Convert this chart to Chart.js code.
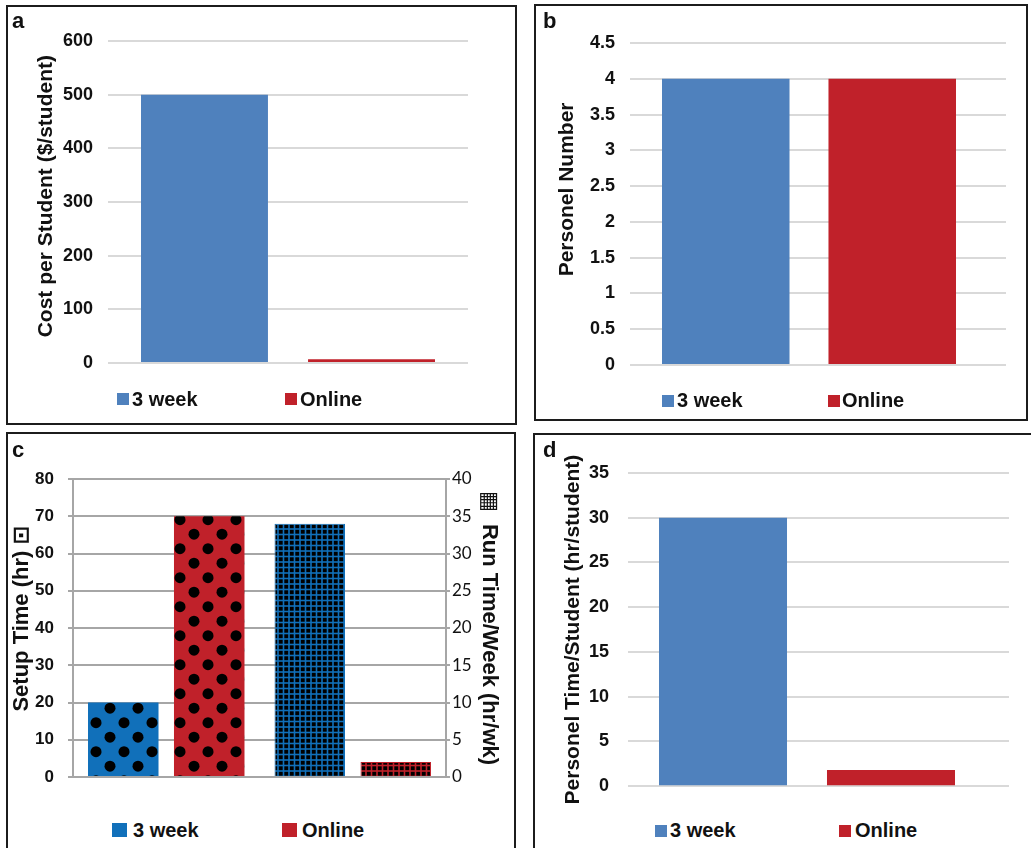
<!DOCTYPE html>
<html>
<head>
<meta charset="utf-8">
<script src="https://cdn.jsdelivr.net/npm/chart.js@4.4.1/dist/chart.umd.min.js"></script>
<style>
  html, body { margin: 0; padding: 0; background: #fff; }
  body { width: 1031px; height: 848px; position: relative; overflow: hidden;
         font-family: 'Liberation Sans', Arial, sans-serif; color: #111; }
  .panel { position: absolute; border: 2px solid #1c1c1c; box-sizing: border-box; }
  canvas { position: absolute; }
  .txt { position: absolute; font-weight: bold; white-space: nowrap; }
  .key { position: absolute; }
</style>
</head>
<body>
<div class="panel" style="left:6px;top:5px;width:511px;height:420px"></div>
<div class="panel" style="left:534px;top:4px;width:494px;height:417px"></div>
<div class="panel" style="left:6px;top:432px;width:510px;height:440px"></div>
<div class="panel" style="left:533px;top:433px;width:520px;height:440px"></div>

<canvas id="ca" width="507" height="385" style="left:8px;top:7px"></canvas>
<canvas id="cb" width="490" height="385" style="left:536px;top:6px"></canvas>
<canvas id="cc" width="508" height="375" style="left:8px;top:435px"></canvas>
<canvas id="cd" width="496" height="380" style="left:535px;top:436px"></canvas>

<script>
// Series and axis data
const seriesNames = ['3 week', 'Online'];
const costPerStudent = [500, 7];
const personelNumber = [4, 4];
const setupTime = [20, 70];
const runTimePerWeek = [34, 2];
const personelTimePerStudent = [30, 1.8];
const timeCategories = ['Setup', 'Run'];

const costTicks = [0, 100, 200, 300, 400, 500, 600];
const personelTicks = [0, 0.5, 1, 1.5, 2, 2.5, 3, 3.5, 4, 4.5];
const setupTicks = [0, 10, 20, 30, 40, 50, 60, 70, 80];
const runTicks = [0, 5, 10, 15, 20, 25, 30, 35, 40];
const timeTicks = [0, 5, 10, 15, 20, 25, 30, 35];

const panelLetters = ['a', 'b', 'c', 'd'];
const axisTitles = [
  'Cost per Student ($/student)',
  'Personel Number',
  'Setup Time (hr)',
  'Run Time/Week (hr/wk)',
  'Personel Time/Student (hr/student)'
];

// Styling
const INK = '#111111';
const LIGHT_GRID = '#d9d9d9';
const DARK_GRID = '#a6a6a6';
const FLAT = ['#4f81bd', '#c0212a'];
const VIVID = ['#1170ba', '#c0212a'];
const FONT = "'Liberation Sans', 'DejaVu Sans', Arial, sans-serif";

Chart.defaults.font.family = FONT;
Chart.defaults.color = INK;

function tickSetter(ticks) {
  return (ax) => { ax.ticks = ticks.map(v => ({ value: v })); };
}

// Two-bar panel with a single category and one dataset per series
function barPanel(canvasId, values, ticks, title, g) {
  const scales = {
    x: { type: 'category', display: false, offset: true },
    y: {
      min: ticks[0], max: ticks[ticks.length - 1],
      afterBuildTicks: tickSetter(ticks),
      afterFit: (ax) => { ax.width = g.yWidth; },
      border: { display: false },
      grid: { color: LIGHT_GRID, lineWidth: 2, drawTicks: false },
      ticks: { padding: g.tickPad, color: INK, font: { size: 18, weight: 'bold' },
               callback: (v) => String(v) },
      title: { display: true, text: ' '.repeat(g.lead) + title, color: INK,
               font: { size: 21, weight: 'bold', lineHeight: 1 },
               padding: { top: g.titlePad, bottom: 0 } }
    }
  };
  if (g.ext) {
    // right-hand stub that carries the gridlines a little past the bars
    scales.y2 = {
      position: 'right',
      min: ticks[0], max: ticks[ticks.length - 1],
      afterBuildTicks: tickSetter(ticks),
      afterFit: (ax) => { ax.width = g.ext; },
      border: { display: false },
      grid: { drawOnChartArea: false, drawTicks: true, tickLength: g.ext,
              color: LIGHT_GRID, lineWidth: 2 },
      ticks: { display: false }
    };
  }
  return new Chart(document.getElementById(canvasId), {
    type: 'bar',
    data: {
      labels: [''],
      datasets: seriesNames.map((name, i) => ({
        label: name,
        data: [values[i]],
        backgroundColor: FLAT[i],
        categoryPercentage: g.cp,
        barPercentage: g.bp
      }))
    },
    options: {
      responsive: false,
      animation: false,
      devicePixelRatio: 1,
      layout: { padding: g.pad },
      plugins: { legend: { display: false }, tooltip: { enabled: false } },
      scales
    }
  });
}

barPanel('ca', costPerStudent, costTicks, axisTitles[0], {
  yWidth: 100, tickPad: 15, titlePad: 27.5, ext: 0, cp: 0.928, bp: 0.76, lead: 2,
  pad: { left: 0, right: 47, top: 34, bottom: 29 }
});
barPanel('cb', personelNumber, personelTicks, axisTitles[1], {
  yWidth: 94, tickPad: 15, titlePad: 20.5, ext: 18, cp: 0.93, bp: 0.766, lead: 5,
  pad: { left: 0, right: 20, top: 37, bottom: 26 }
});
barPanel('cd', personelTimePerStudent, timeTicks, axisTitles[4], {
  yWidth: 93, tickPad: 19, titlePad: 27.5, ext: 23, cp: 0.9385, bp: 0.762, lead: 0,
  pad: { left: 0, right: 22, top: 37, bottom: 21 }
});

// Fill patterns for the dual-axis panel
const ccCtx = document.getElementById('cc').getContext('2d');
function dotPattern(base) {
  const t = document.createElement('canvas');
  t.width = 28; t.height = 29;
  const c = t.getContext('2d');
  c.fillStyle = base; c.fillRect(0, 0, 28, 29);
  c.fillStyle = '#000';
  for (const [x, y] of [[4, 26.7], [18, 12.2]]) {
    for (const dx of [-28, 0, 28]) for (const dy of [-29, 0, 29]) {
      c.beginPath(); c.arc(x + dx, y + dy, 5.5, 0, Math.PI * 2); c.fill();
    }
  }
  return ccCtx.createPattern(t, 'repeat');
}
function meshPattern(base) {
  const t = document.createElement('canvas');
  t.width = 11; t.height = 11;
  const c = t.getContext('2d');
  c.fillStyle = base; c.fillRect(0, 0, 11, 11);
  c.fillStyle = '#000';
  for (const a of [1.3, 6.8]) for (const b of [1.3, 6.8]) c.fillRect(a, b, 3.9, 3.9);
  return ccCtx.createPattern(t, 'repeat');
}

new Chart(document.getElementById('cc'), {
  type: 'bar',
  data: {
    labels: timeCategories,
    datasets: [
      { label: seriesNames[0], data: [setupTime[0], null], yAxisID: 'y',
        backgroundColor: dotPattern(VIVID[0]) },
      { label: seriesNames[1], data: [setupTime[1], null], yAxisID: 'y',
        backgroundColor: dotPattern(VIVID[1]) },
      { label: seriesNames[0], data: [null, runTimePerWeek[0]], yAxisID: 'y2',
        backgroundColor: meshPattern(VIVID[0]), borderColor: VIVID[0], borderWidth: 1 },
      { label: seriesNames[1], data: [null, runTimePerWeek[1]], yAxisID: 'y2',
        backgroundColor: meshPattern(VIVID[1]), borderColor: VIVID[1], borderWidth: 1 }
    ].map(d => Object.assign(d, { skipNull: true, categoryPercentage: 0.922, barPercentage: 0.82 }))
  },
  options: {
    responsive: false,
    animation: false,
    devicePixelRatio: 1,
    layout: { padding: { left: 0, right: 0, top: 44, bottom: 33 } },
    plugins: { legend: { display: false }, tooltip: { enabled: false } },
    scales: {
      x: { type: 'category', display: false, offset: true },
      y: {
        position: 'left',
        min: setupTicks[0], max: setupTicks[setupTicks.length - 1],
        afterBuildTicks: tickSetter(setupTicks),
        afterFit: (ax) => { ax.width = 65; },
        border: { display: true, color: DARK_GRID, width: 2 },
        grid: { color: DARK_GRID, lineWidth: 2, drawTicks: true, tickLength: 5 },
        ticks: { padding: 14, color: INK, font: { size: 17, weight: 'bold' },
                 callback: (v) => String(v) },
        title: { display: true, text: '   ' + axisTitles[2] + ' \u22A1', color: INK,
                 font: { size: 22, weight: 'bold', lineHeight: 1 },
                 padding: { top: 3, bottom: 0 } }
      },
      y2: {
        position: 'right',
        min: runTicks[0], max: runTicks[runTicks.length - 1],
        afterBuildTicks: tickSetter(runTicks),
        afterFit: (ax) => { ax.width = 70; },
        border: { display: true, color: DARK_GRID, width: 2 },
        grid: { drawOnChartArea: false, color: DARK_GRID, lineWidth: 2, drawTicks: true, tickLength: 4 },
        ticks: { padding: 2, color: INK, font: { family: "Lato, 'Open Sans', sans-serif", size: 17 },
                 callback: (v) => String(v) },
        title: { display: true, text: '\u25A6  ' + axisTitles[3], color: INK,
                 font: { size: 22, weight: 'bold', lineHeight: 1 },
                 padding: { top: 16, bottom: 0 } }
      }
    }
  }
});

// Panel letters and legends
function addText(text, x, baseline, size) {
  const el = document.createElement('div');
  el.className = 'txt';
  el.textContent = text;
  el.style.fontSize = size + 'px';
  el.style.lineHeight = size + 'px';
  el.style.left = x + 'px';
  el.style.top = (baseline - size * 0.8465) + 'px';
  document.body.appendChild(el);
}
function addKey(color, x, y, w, h) {
  const el = document.createElement('div');
  el.className = 'key';
  Object.assign(el.style, { left: x + 'px', top: y + 'px', width: w + 'px', height: h + 'px', background: color });
  document.body.appendChild(el);
}

const letterPos = [[12, 29], [543, 29], [12, 458], [543, 458]];
panelLetters.forEach((l, i) => addText(l, letterPos[i][0], letterPos[i][1], 22));

const legends = [
  { colors: FLAT,  keys: [[117, 393], [285, 393]], texts: [132, 300], base: 405.7, w: 12, h: 12 },
  { colors: FLAT,  keys: [[662, 395], [828, 395]], texts: [677, 842], base: 406.5, w: 12, h: 12 },
  { colors: VIVID, keys: [[112, 823], [282, 823]], texts: [133, 302], base: 836.5, w: 15, h: 14 },
  { colors: FLAT,  keys: [[655, 825], [839, 825]], texts: [670, 855], base: 837, w: 12, h: 12 }
];
legends.forEach(lg => {
  seriesNames.forEach((name, i) => {
    addKey(lg.colors[i], lg.keys[i][0], lg.keys[i][1], lg.w, lg.h);
    addText(name, lg.texts[i], lg.base, 20);
  });
});
</script>
</body>
</html>
